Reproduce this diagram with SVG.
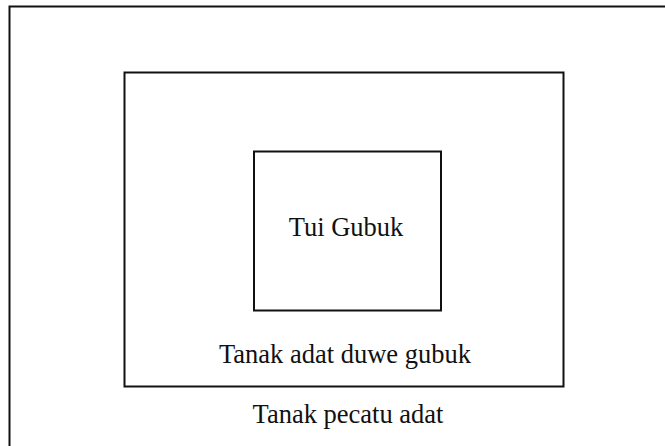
<svg xmlns="http://www.w3.org/2000/svg" width="665" height="446" viewBox="0 0 665 446">
<style>
.b{fill:none;stroke:#111;stroke-width:2}
.t{font-family:"Liberation Serif","Times New Roman",serif;font-size:26.5px;fill:#111;text-anchor:middle}
</style>
<rect width="665" height="446" fill="#fff"/>
<g id="outer">
<path class="b" d="M9.5,447 V6.5 H666"/>
<text class="t" x="348" y="423">Tanak pecatu adat</text>
</g>
<g id="middle">
<rect class="b" x="124.5" y="72.5" width="439" height="314"/>
<text class="t" x="345" y="363">Tanak adat duwe gubuk</text>
</g>
<g id="inner">
<rect class="b" x="254" y="151.5" width="187" height="159"/>
<text class="t" x="346" y="236">Tui Gubuk</text>
</g>
<g id="connectors"/>
</svg>
